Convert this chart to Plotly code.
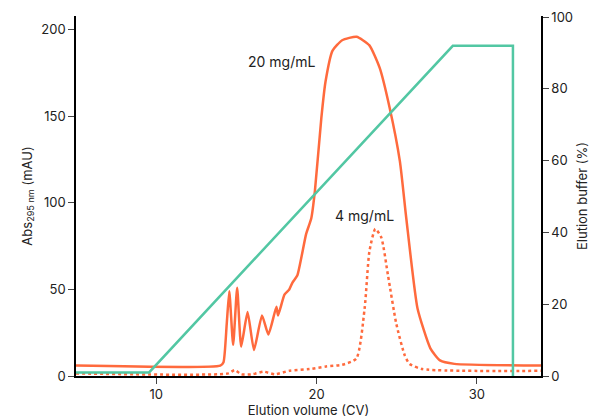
import plotly.graph_objects as go

hi_x = [5, 14.0, 14.2, 14.4, 14.56, 14.8, 15.05, 15.3, 15.7, 16.1, 16.6, 17.0, 17.5, 17.6, 18.0, 18.3, 18.5, 18.8, 19.35, 19.67, 19.9, 20.3, 20.56, 21.0, 21.6, 22.5, 23.3, 23.94, 24.56, 25.2, 25.6, 26.3, 27.1, 27.7, 28.6, 34]
hi_y = [6, 6, 8, 30, 49, 18, 51, 17, 37, 15, 35, 24, 40, 35, 47, 50, 54, 58, 82, 91, 107, 149, 170, 188, 194, 196, 191, 178, 155, 124, 91, 39, 16, 9, 7, 6]

lo_x = [5, 14.5, 14.9, 15.3, 16.0, 16.7, 17.4, 18.3, 19.56, 20.6, 21.6, 22.48, 23.0, 23.3, 23.67, 24.04, 24.46, 24.98, 25.5, 25.8, 26.6, 34]
lo_y = [1.5, 1.5, 3.5, 1, 1, 2.5, 1, 3, 4, 5.5, 6.5, 10, 39, 72, 85, 80, 58, 30, 12, 7, 4, 3]

buf_x = [5, 9.56, 28.5, 32.25, 32.25]
buf_y = [1, 1, 92, 92, 0]

orange = "#FF6A3D"
green = "#52C7A3"

fig = go.Figure()
fig.add_trace(go.Scatter(x=buf_x, y=buf_y, yaxis="y2", mode="lines", line=dict(color=green, width=2.5)))
fig.add_trace(go.Scatter(x=hi_x, y=hi_y, mode="lines", line=dict(color=orange, width=2.5, shape="spline", smoothing=0.5)))
fig.add_trace(go.Scatter(x=lo_x, y=lo_y, mode="lines", line=dict(color=orange, width=2.5, dash="dot", shape="spline", smoothing=0.6)))

font = dict(family="Inter, Liberation Sans, sans-serif", size=13, color="#222")
fig.update_layout(
    width=598, height=420, showlegend=False, template="none",
    paper_bgcolor="white", plot_bgcolor="white", font=font,
    margin=dict(l=68, r=65, t=8, b=52, autoexpand=False),
    xaxis=dict(range=[5, 34], tickvals=[10, 20, 30], ticks="outside", ticklen=6, showgrid=False, zeroline=False,
               automargin=False, showline=True, linecolor="black", linewidth=1.5,
               title=dict(text="Elution volume (CV)", standoff=2, font=dict(size=13))),
    yaxis=dict(range=[0, 208], tickvals=[0, 50, 100, 150, 200], ticks="outside", ticklen=6, showgrid=False, zeroline=False,
               automargin=False, showline=True, linecolor="black", linewidth=1.5,
               title=dict(text="Abs<sub>295 nm</sub> (mAU)", standoff=6, font=dict(size=13))),
    yaxis2=dict(range=[0, 100.3], overlaying="y", side="right", tickvals=[0, 20, 40, 60, 80, 100], ticks="outside", ticklen=6,
                automargin=False, showgrid=False, zeroline=False, showline=True, linecolor="black", linewidth=1.5,
                title=dict(text="Elution buffer (%)", standoff=6, font=dict(size=13))),
    annotations=[
        dict(x=17.8, y=182, text="20 mg/mL", showarrow=False, font=dict(size=14)),
        dict(x=23.0, y=93, text="4 mg/mL", showarrow=False, font=dict(size=14)),
    ],
)
fig.write_html("out.html")
